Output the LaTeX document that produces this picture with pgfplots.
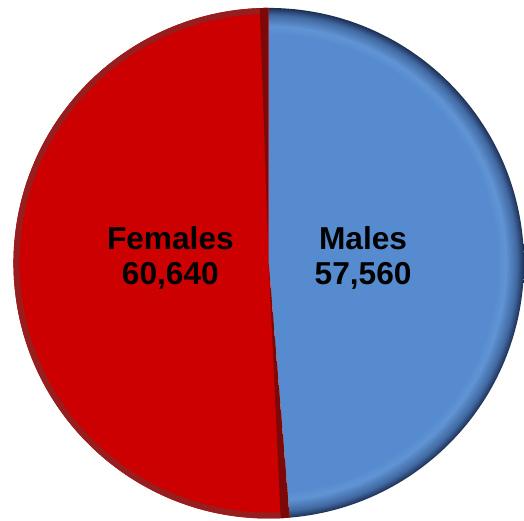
\documentclass[border=0pt]{standalone}
\usepackage{pgfplots}
\usepackage{pgfplotstable}
\pgfplotsset{compat=1.18}
\usepackage{fontspec}
\setmainfont{Liberation Sans}
\definecolor{fred}{RGB}{204,0,0}
\definecolor{fredrim}{RGB}{150,30,30}
\definecolor{fredline}{RGB}{125,8,8}
\definecolor{mblue}{RGB}{86,140,207}
\definecolor{mbluelight}{RGB}{96,148,212}
\definecolor{mbluemid}{RGB}{65,105,162}
\definecolor{mbluedark}{RGB}{28,46,82}
\pgfdeclareradialshading{bluerim}{\pgfpoint{0bp}{0bp}}{%
  color(0bp)=(mblue); color(22.4bp)=(mblue); color(23.2bp)=(mbluelight); color(24.3bp)=(mbluemid); color(25bp)=(mbluedark); color(50bp)=(mbluedark)}
\pgfplotstableread{
label value
Females 60640
Males 57560
}\piedata
\begin{document}
\pgfplotstablegetelem{0}{value}\of\piedata \let\vfem\pgfplotsretval
\pgfplotstablegetelem{1}{value}\of\piedata \let\vmal\pgfplotsretval
\edef\split{\fpeval{round(90-360*\vmal/(\vmal+\vfem),3)}}
\edef\splitb{\fpeval{\split-2}}
\begin{tikzpicture}
\begin{axis}[
  at={(0,0)}, anchor=south west,
  scale only axis, width=522bp, height=524bp,
  xmin=0, xmax=522, ymin=0, ymax=524,
  hide axis,
]
% Males wedge
\begin{scope}
  \clip (axis cs:265,259) -- ++(90:257bp) arc[start angle=90, end angle=\split, radius=257bp] -- cycle;
  \shade[shading=bluerim] (axis cs:265,259) circle[radius=257bp];
\end{scope}
% Females wedge
\begin{scope}
  \clip (axis cs:265,259) -- ++(\split:257bp) arc[start angle=\split, end angle=-270, radius=257bp] -- cycle;
  \fill[fred] (axis cs:265,259) circle[radius=257bp];
  \draw[fredrim, line width=12bp] (axis cs:265,259) circle[radius=257bp];
  \fill[fredline] (axis cs:265,259) -- ++(90:257bp) arc[start angle=90, end angle=92, radius=257bp] -- cycle;
  \fill[fredline] (axis cs:265,259) -- ++(\split:257bp) arc[start angle=\split, end angle=\splitb, radius=257bp] -- cycle;
\end{scope}
\node[font=\fontsize{32}{35}\selectfont\bfseries, align=center, text=black] at (axis cs:166,264) {Females\\60,640};
\node[font=\fontsize{32}{35}\selectfont\bfseries, align=center, text=black] at (axis cs:360,264) {Males\\57,560};
\end{axis}
\pgfresetboundingbox
\path (0,0) rectangle (522bp,524bp);
\end{tikzpicture}
\end{document}
